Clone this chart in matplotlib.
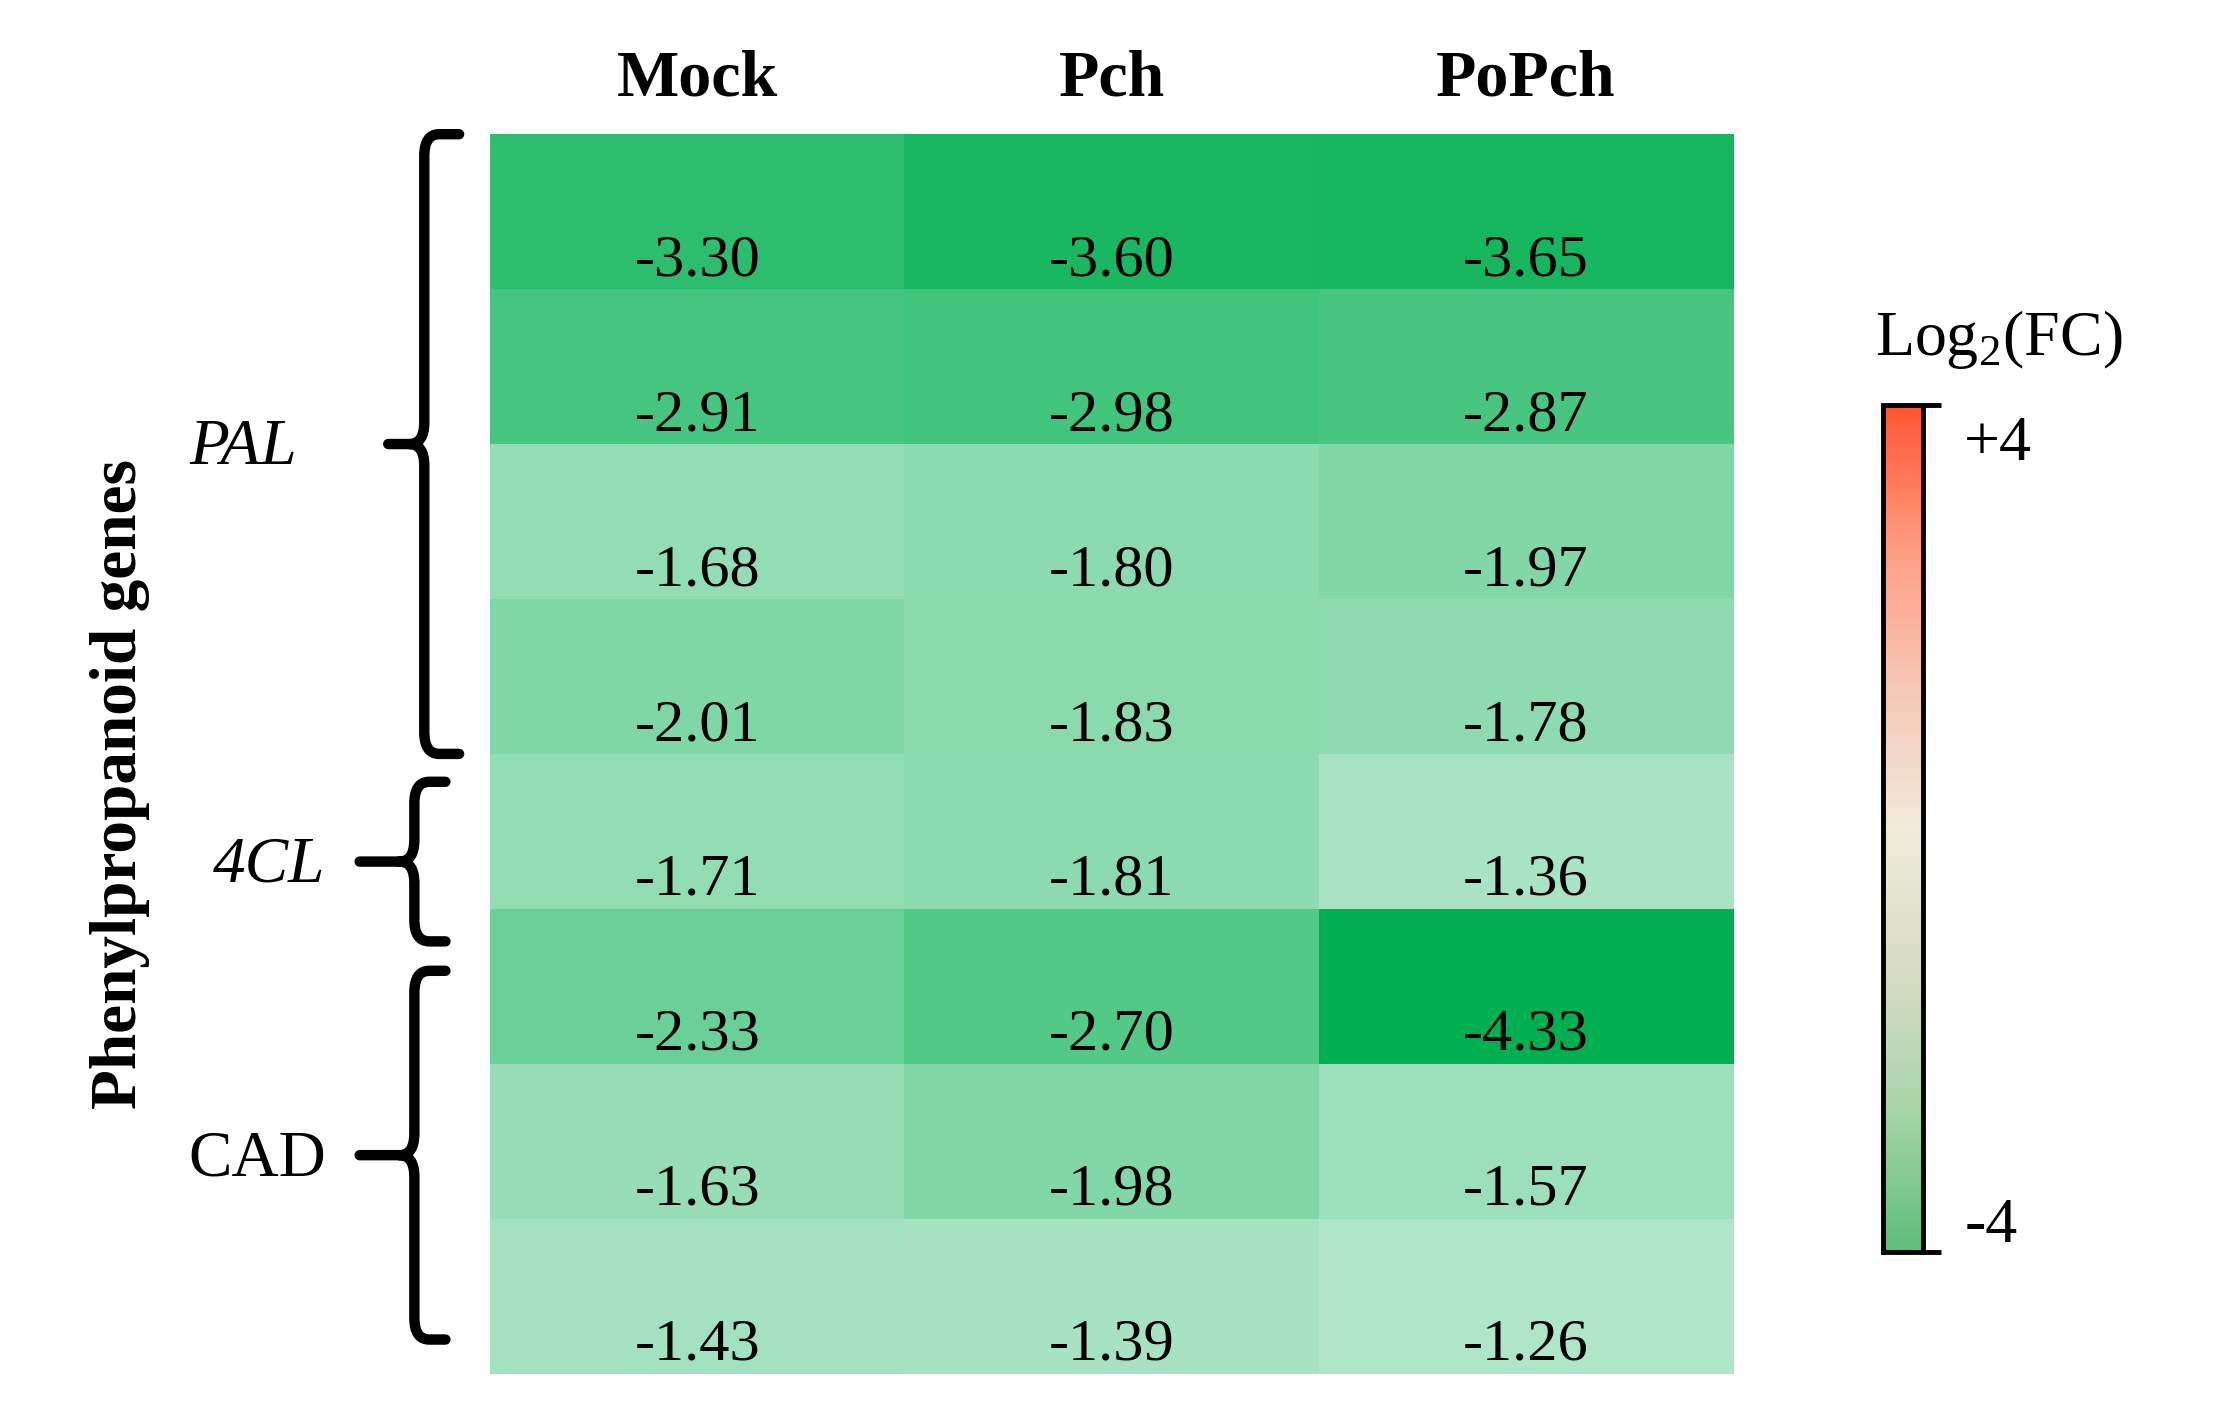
import matplotlib
matplotlib.use("Agg")
import matplotlib.pyplot as plt
import numpy as np
from matplotlib.colors import LinearSegmentedColormap, Normalize
from matplotlib.path import Path
from matplotlib.patches import PathPatch
from matplotlib import transforms
from matplotlib.cm import ScalarMappable

plt.rcParams['font.family'] = ['Liberation Serif', 'DejaVu Serif']

# treatments (columns) and log2 fold change per gene row
treatments = ["Mock", "Pch", "PoPch"]
mock = [-3.30, -2.91, -1.68, -2.01, -1.71, -2.33, -1.63, -1.43]
pch = [-3.60, -2.98, -1.80, -1.83, -1.81, -2.70, -1.98, -1.39]
popch = [-3.65, -2.87, -1.97, -1.78, -1.36, -4.33, -1.57, -1.26]

# gene groups: label, italic?, bracket top / bottom (in row units)
group_labels = ["PAL", "4CL", "CAD"]
group_italic = [True, True, False]
brace_top = [-0.5, 3.68, 4.90]
brace_bot = [3.5, 4.71, 7.28]

values = np.array([mock, pch, popch]).T

fig = plt.figure(figsize=(22.15, 14.23), dpi=100)
ax = fig.add_axes([0.2213, 0.0347, 0.5612, 0.871])

# cells go white -> green, clipped at -4
cell_cmap = LinearSegmentedColormap.from_list("cells", ["#00b050", "#ffffff"])
ax.imshow(values, cmap=cell_cmap, vmin=-4, vmax=0, aspect='auto')

for i in range(values.shape[0]):
    for j in range(values.shape[1]):
        ax.text(j, i + 0.32, "{:.2f}".format(values[i, j]), ha='center', va='center',
                fontsize=43.5, color='black')

ax.set_xticks([])
ax.set_yticks([])
for s in ax.spines.values():
    s.set_visible(False)

# column headers on top
for j, name in enumerate(treatments):
    ax.text(j, 1.044, name, transform=transforms.blended_transform_factory(ax.transData, ax.transAxes),
            ha='center', va='center', fontsize=47.5, fontweight='bold')

# curly brackets for the gene groups
trans = transforms.blended_transform_factory(ax.transAxes, ax.transData)
for k, lab in enumerate(group_labels):
    top, bot = brace_top[k], brace_bot[k]
    mid = (top + bot) / 2
    if k == 0:
        xv, xtip, xend = -0.053, -0.082, -0.025
    else:
        xv, xtip, xend = -0.061, -0.105, -0.036
    rx, ry = 0.012, 0.14
    verts = [(xend, top), (xv + rx, top), (xv, top), (xv, top + ry),
             (xv, mid - ry), (xv, mid), (xv - rx, mid), (xtip, mid),
             (xv - rx, mid), (xv, mid), (xv, mid + ry),
             (xv, bot - ry), (xv, bot), (xv + rx, bot), (xend, bot)]
    codes = [Path.MOVETO, Path.LINETO, Path.CURVE3, Path.CURVE3,
             Path.LINETO, Path.CURVE3, Path.CURVE3, Path.LINETO,
             Path.MOVETO, Path.CURVE3, Path.CURVE3,
             Path.LINETO, Path.CURVE3, Path.CURVE3, Path.LINETO]
    ax.add_patch(PathPatch(Path(verts, codes), transform=trans, fill=False,
                           lw=7.5, capstyle='round', joinstyle='round',
                           edgecolor='black', clip_on=False))
    lx = -0.199 if k == 0 else (-0.178 if k == 1 else -0.1875)
    ax.text(lx, mid + 0.03, lab, transform=trans, ha='center', va='center', fontsize=47,
            style='italic' if group_italic[k] else 'normal')

fig.text(0.0542, 0.449, "Phenylpropanoid genes", rotation=90, ha='center', va='center',
         fontsize=47, fontweight='bold')

# colour scale
cax = fig.add_axes([0.8501, 0.1202, 0.0179, 0.595])
bar_cmap = LinearSegmentedColormap.from_list(
    "bar", ["#5cbf78", "#a8d5a8", "#d8dcc4", "#efeadc", "#f6c7b4", "#ff9c80", "#ff5533"])
cb = fig.colorbar(ScalarMappable(norm=Normalize(-4, 4), cmap=bar_cmap), cax=cax, ticks=[-4, 4])
cb.outline.set_linewidth(3.5)
cax.tick_params(length=13, width=3.5, direction='out', labelright=False)
cax.text(2.05, 3.62, "+4", transform=transforms.blended_transform_factory(cax.transAxes, cax.transData),
         ha='left', va='center', fontsize=46)
cax.text(2.05, -3.76, "-4", transform=transforms.blended_transform_factory(cax.transAxes, cax.transData),
         ha='left', va='center', fontsize=46)
fig.text(0.9024, 0.7617, "Log$_{\\mathregular{2}}$(FC)", ha='center', va='center', fontsize=46)

fig.savefig("out.png", dpi=100, facecolor='white')
